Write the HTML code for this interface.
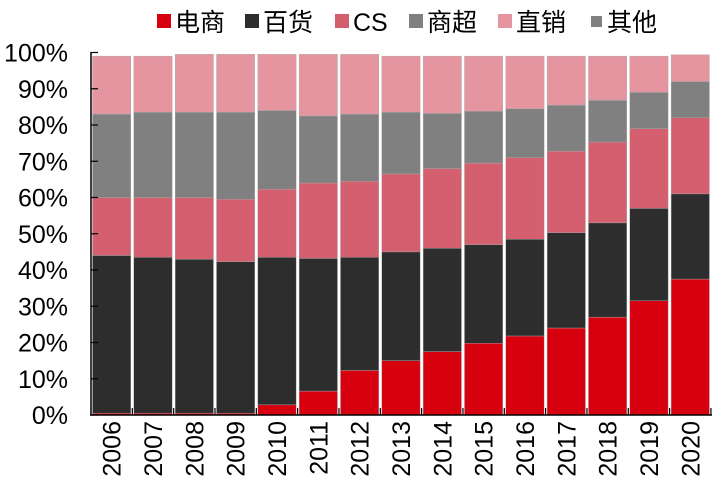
<!DOCTYPE html>
<html><head><meta charset="utf-8"><style>body{margin:0;background:#fff}</style></head><body>
<svg width="721" height="492" xmlns="http://www.w3.org/2000/svg" font-family="Liberation Sans, Noto Sans CJK SC, sans-serif">
<g font-size="25" fill="#000">
<rect x="157" y="14" width="14" height="14" fill="#d7000f"/><text x="175" y="31">电商</text>
<rect x="245" y="14" width="14" height="14" fill="#2d2d2d"/><text x="263" y="31">百货</text>
<rect x="335" y="14" width="14" height="14" fill="#d45f6e"/><text x="353" y="31">CS</text>
<rect x="409" y="14" width="14" height="14" fill="#808080"/><text x="427" y="31">商超</text>
<rect x="498" y="14" width="14" height="14" fill="#e595a0"/><text x="516" y="31">直销</text>
<rect x="591" y="16" width="11" height="11" fill="#808080"/><text x="607" y="31">其他</text>
</g>
<g id="bars"></g>
<g stroke="#000" stroke-width="1.5" fill="none">
<line x1="91" y1="52" x2="91" y2="415"/><line x1="90" y1="415" x2="712" y2="415"/>
</g>
<g id="ax"></g>
<script>
var d=[[0.5,44,60,83,99],[0.5,43.5,60,83.5,99],[0.5,43,60,83.5,99.5],[0.5,42.3,59.5,83.5,99.5],[2.8,43.5,62.3,84,99.5],[6.6,43.2,64,82.5,99.5],[12.3,43.5,64.5,83,99.5],[15,45,66.5,83.5,99],[17.5,46,68,83.2,99],[19.8,47,69.5,83.8,99],[21.8,48.5,71,84.5,99],[24,50.3,72.8,85.5,99],[27,53,75.3,86.8,99],[31.5,57,79,89,99],[37.5,61,82,92,99.4]];
var c=["#d7000f","#2d2d2d","#d45f6e","#808080","#e595a0"];
var ns="http://www.w3.org/2000/svg",b=document.getElementById("bars"),a=document.getElementById("ax");
function el(p,t,o,tx){var e=document.createElementNS(ns,t);for(var k in o)e.setAttribute(k,o[k]);if(tx)e.textContent=tx;p.appendChild(e);return e;}
var s=41.33,y0=415,k=3.625;
d.forEach(function(r,i){var x=91+i*s+1.5,prev=0;r.forEach(function(v,j){var yt=y0-v*k,yb=y0-prev*k;el(b,"rect",{x:x,y:yt,width:s-3,height:yb-yt,fill:c[j],stroke:"#aaa","stroke-width":0.4});prev=v;});
el(a,"line",{x1:91+(i+1)*s,y1:408,x2:91+(i+1)*s,y2:415,stroke:"#000","stroke-width":1.2});
var cx=91+i*s+s/2+9;el(a,"text",{x:0,y:0,"font-size":25,"text-anchor":"end",transform:"translate("+cx+",421) rotate(-90)"},String(2006+i));});
for(var p=0;p<=10;p++){var y=y0-p*10*k;el(a,"line",{x1:91,y1:y,x2:98,y2:y,stroke:"#000","stroke-width":1.2});el(a,"text",{x:68,y:y+9,"font-size":25,"text-anchor":"end"},(p*10)+"%");}
</script>
</svg>
</body></html>
